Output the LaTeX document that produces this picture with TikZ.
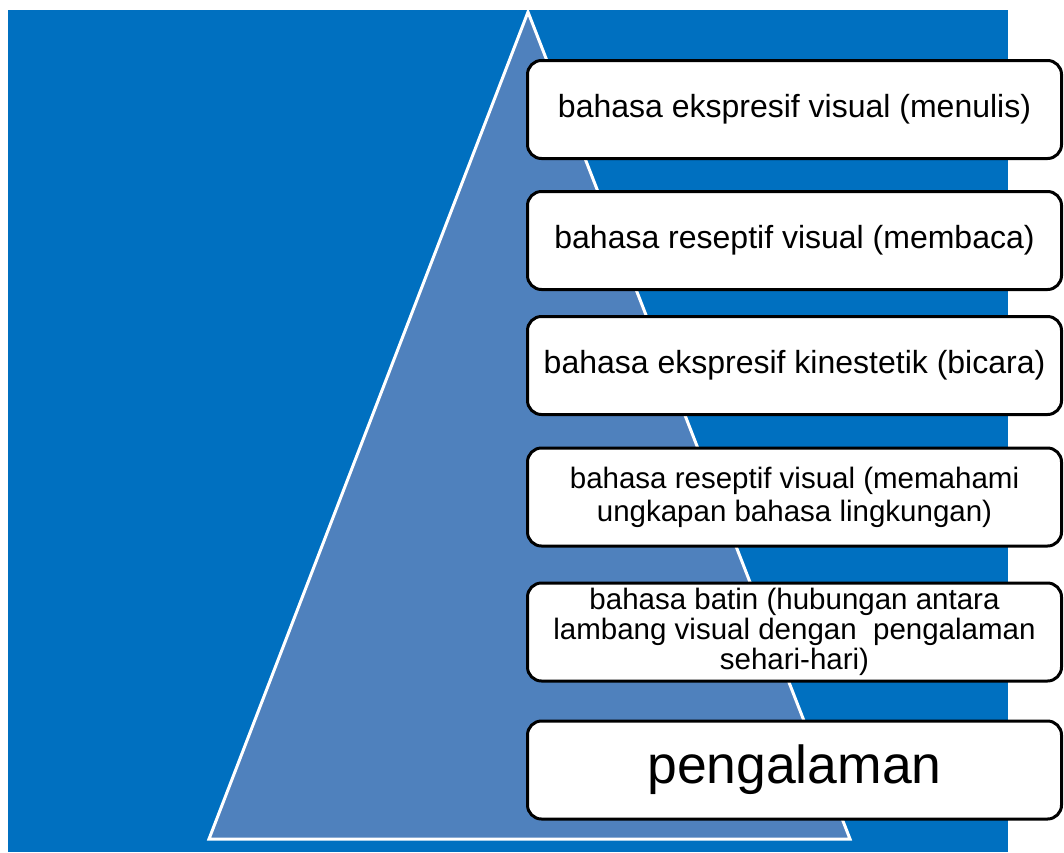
\documentclass[tikz,border=0pt]{standalone}
\usepackage{fontspec}
\setmainfont{Liberation Sans}
\usepackage{tikz}

\definecolor{bgblue}{RGB}{0,112,192}
\definecolor{triblue}{RGB}{79,129,189}

\tikzset{
  levelbox/.style={draw=black, fill=white, line width=3pt, rounded corners=14pt,
    minimum width=534pt, minimum height=98pt, inner sep=0pt, align=center}
}

\begin{document}
\begin{tikzpicture}[x=1pt,y=-1pt]
  \path[use as bounding box] (0,0) rectangle (1064,852);
  \path[fill=bgblue] (8,10) rectangle (1008,852);

  % pyramid
  \coordinate (top) at (528,12);
  \coordinate (bl) at (209,839);
  \coordinate (br) at (850,839);
  \draw[white, line width=3pt, fill=triblue, line join=miter] (top) -- (bl) -- (br) -- cycle;

  % levels, top to bottom
  \node[levelbox, font=\fontsize{32}{37}\selectfont] (menulis) at (794.5,109.5)
    {bahasa ekspresif visual (menulis)};
  \node[levelbox, font=\fontsize{32}{37}\selectfont] (membaca) at (794.5,240.5)
    {bahasa reseptif visual (membaca)};
  \node[levelbox, font=\fontsize{32}{37}\selectfont] (bicara) at (794.5,365.5)
    {bahasa ekspresif kinestetik (bicara)};
  \node[levelbox, font=\fontsize{29.5}{33}\selectfont] (memahami) at (794.5,497)
    {bahasa reseptif visual (memahami\\ungkapan bahasa lingkungan)};
  \node[levelbox, font=\fontsize{29.5}{30}\selectfont] (batin) at (794.5,632)
    {bahasa batin (hubungan antara\\lambang visual dengan\ \ pengalaman\\sehari-hari)};
  \node[levelbox, font=\fontsize{53.5}{60}\selectfont] (pengalaman) at (794.5,770)
    {pengalaman};

\end{tikzpicture}
\end{document}
